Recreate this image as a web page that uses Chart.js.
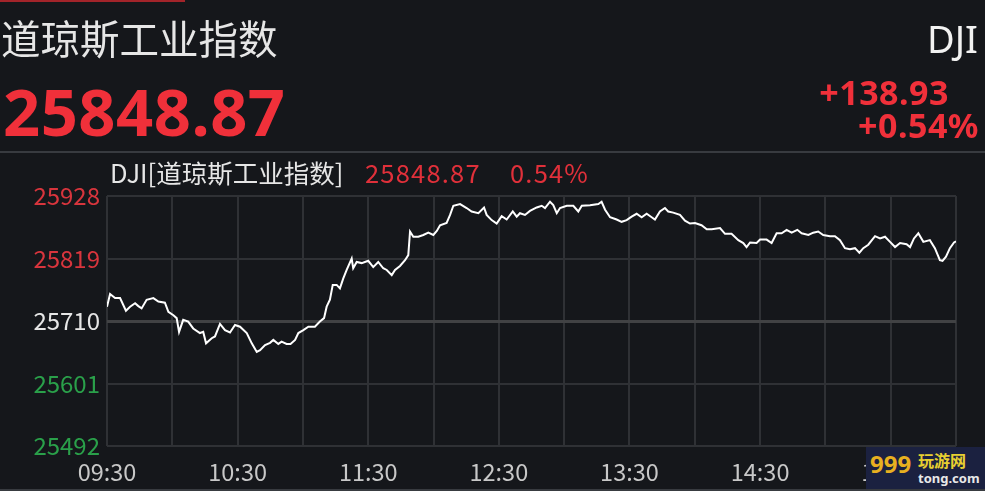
<!DOCTYPE html>
<html>
<head>
<meta charset="utf-8">
<script src="https://cdn.jsdelivr.net/npm/chart.js@4.4.1/dist/chart.umd.min.js"></script>
<style>
  html, body { margin: 0; padding: 0; background: #15171b; }
  #wrap { position: relative; width: 985px; height: 491px; overflow: hidden; background: #15171b;
          font-family: "Noto Sans CJK SC", "Noto Sans", sans-serif; }
  #chart { position: absolute; left: 0; top: 0; }
  .t { position: absolute; white-space: nowrap; line-height: 1; }
  .red { color: #f0303a; }
</style>
</head>
<body>
<div id="wrap">
  <canvas id="chart" width="985" height="491"></canvas>

  <div class="t" style="left:0;top:0;width:185px;height:2px;background:#a3242a"></div>
  <div class="t" style="left:1px;top:17px;font-size:39.5px;color:#e6e6e6">道琼斯工业指数</div>
  <div class="t" style="right:7px;top:19px;font-size:38px;color:#f2f2f2;font-family:'Noto Sans',sans-serif">DJI</div>
  <div class="t red" style="left:3px;top:79px;font-size:65px;font-weight:bold;font-family:'Noto Sans',sans-serif;letter-spacing:0.5px">25848.87</div>
  <div class="t red" style="right:36px;top:75px;font-size:34px;font-weight:bold;font-family:'Noto Sans',sans-serif;letter-spacing:0.5px">+138.93</div>
  <div class="t red" style="right:6px;top:108px;font-size:34px;font-weight:bold;font-family:'Noto Sans',sans-serif;letter-spacing:0.5px">+0.54%</div>
  <div class="t" style="left:0;top:151px;width:985px;height:2px;background:#383b40"></div>

  <div class="t" style="left:110px;top:159px;font-size:25.5px;color:#e6e6e6">DJI[道琼斯工业指数]</div>
  <div class="t" style="left:365px;top:159px;font-size:25.5px;color:#e0303a;letter-spacing:1.2px">25848.87</div>
  <div class="t" style="left:510px;top:159px;font-size:25.5px;color:#e0303a;letter-spacing:1.2px">0.54%</div>

  <div class="t" style="left:0;top:489px;width:985px;height:2px;background:#383b40"></div>
  <div class="t" style="left:866px;top:447px;width:119px;height:42px;background:#1b2140;"></div>
  <div class="t" style="left:870px;top:452px;font-size:24px;font-weight:bold;color:#e8b020;font-family:'Noto Sans',sans-serif">999</div>
  <div class="t" style="left:918px;top:452px;font-size:16px;font-weight:bold;color:#e8d030">玩游网</div>
  <div class="t" style="left:918px;top:472px;font-size:13px;font-weight:bold;color:#e8e8e8;font-family:'Noto Sans',sans-serif">tong.com</div>
</div>

<script>
// minutes since 09:30
const minutes = [0,1.4,3.7,6,8.7,10.6,12.9,14.4,15.9,18.2,
  21.3,23.6,26.6,28.2,30.5,32,33.1,35,37.3,39.6,
  42.7,44.2,45.5,48.1,49.6,51.9,54.2,56.5,58.8,61.1,
  64.2,66.5,68.8,70.3,72.6,74.9,76.4,78.7,80.2,82.5,
  84.3,86.4,87.9,90.2,92.5,95.5,97.8,99.7,100.9,102.4,
  103.7,105.5,107,108.5,110.1,112.4,113.1,114.7,117,120,
  122.3,124.6,126.9,128.5,130.8,132.3,134.6,136.9,138.4,139.2,
  140.7,143,145.3,147.6,149.9,151.5,153,156,157.6,159.1,
  162.2,165.2,167.5,170.6,173.2,174.4,176.7,179,181.3,183.6,
  186.4,188.2,189.7,192,194.3,197.4,199.7,201.2,203.5,205,
  206.6,208.1,211.2,214.2,216.5,218.1,221.9,225.7,227.2,228.8,
  231.1,234.1,236.4,238.7,241,243.3,245.6,247.9,250.2,251.7,
  254,256.3,257.8,260.1,263.2,265.5,267.8,270.1,273.1,275.5,
  277.8,281.6,283.9,286.9,290,292.3,293.8,295.4,298.4,300,
  303,305.3,307.6,309.9,312.2,314.5,317.1,319.1,322.2,324.4,
  326.7,329,332.1,334.4,336.7,339,341.3,343.6,345.6,347.4,
  349.7,352.8,355.1,357.4,359.7,362,364.3,367.3,368.9,370.7,
  372.7,375,378,380.3,382.6,383.8,385.4,387.2,389.1,390];

const values = [25735,25757,25750,25750,25728,25735,25741,25736,25732,25747,
  25750,25744,25742,25726,25720,25715,25691,25712,25709,25697,
  25689,25691,25671,25680,25683,25705,25694,25690,25703,25700,
  25689,25671,25656,25659,25668,25672,25677,25670,25674,25670,
  25670,25677,25689,25694,25700,25700,25709,25715,25735,25747,
  25773,25773,25767,25784,25799,25819,25802,25813,25811,25815,
  25804,25813,25802,25799,25790,25799,25806,25816,25825,25866,
  25857,25857,25860,25864,25860,25867,25877,25881,25895,25911,
  25914,25907,25901,25898,25908,25895,25886,25880,25893,25887,
  25901,25892,25898,25895,25902,25908,25911,25907,25918,25912,
  25898,25907,25911,25911,25901,25911,25912,25914,25918,25904,
  25891,25887,25883,25886,25892,25897,25891,25897,25891,25887,
  25901,25907,25901,25899,25895,25885,25880,25881,25877,25870,
  25870,25872,25862,25862,25851,25846,25839,25847,25846,25852,
  25852,25846,25863,25863,25869,25864,25869,25863,25860,25864,
  25866,25860,25858,25858,25851,25837,25835,25837,25829,25837,
  25843,25858,25854,25857,25848,25839,25846,25844,25839,25854,
  25863,25848,25851,25837,25816,25815,25822,25837,25847,25849];

const yTicks = [25492, 25601, 25710, 25819, 25928];
const prevClose = 25710;
const gridMinutes = [0, 30, 60, 90, 120, 150, 180, 210, 240, 270, 300, 330, 360, 390];
const timeLabels = ["09:30", "10:30", "11:30", "12:30", "13:30", "14:30", "15:30"];

const RED = "#d8353d", GREEN = "#2aa04a", WHITE = "#e6e6e6";
const FONT = '"Noto Sans CJK SC", "Noto Sans", sans-serif';

new Chart(document.getElementById("chart"), {
  type: "line",
  data: {
    datasets: [{
      data: minutes.map((m, i) => ({ x: m, y: values[i] })),
      borderColor: "#ffffff",
      borderWidth: 2,
      pointRadius: 0,
      tension: 0,
      fill: false,
    }],
  },
  options: {
    responsive: false,
    animation: false,
    devicePixelRatio: 1,
    layout: { padding: { top: 196, right: 29, bottom: 0, left: 0 } },
    plugins: { legend: { display: false }, tooltip: { enabled: false } },
    scales: {
      x: {
        type: "linear",
        min: 0,
        max: 390,
        afterBuildTicks: (s) => { s.ticks = gridMinutes.map((v) => ({ value: v })); },
        afterFit: (s) => { s.height = 45; },
        ticks: {
          autoSkip: false,
          maxRotation: 0,
          padding: 12,
          color: "#c8c8c8",
          font: { family: FONT, size: 23.5 },
          callback: (v) => (v % 60 === 0 ? timeLabels[v / 60] : ""),
        },
        grid: { color: "#2f3135", lineWidth: 2, drawTicks: false },
        border: { display: false },
      },
      y: {
        min: 25492,
        max: 25928,
        afterBuildTicks: (s) => { s.ticks = yTicks.map((v) => ({ value: v })); },
        afterFit: (s) => { s.width = 107; },
        ticks: {
          padding: 7,
          font: { family: FONT, size: 24 },
          callback: (v) => String(v),
          color: (c) => (c.tick.value > prevClose ? RED : c.tick.value < prevClose ? GREEN : WHITE),
        },
        grid: {
          drawTicks: false,
          color: (c) => (c.tick && c.tick.value === prevClose ? "#414244" : "#2f3135"),
          lineWidth: (c) => (c.tick && c.tick.value === prevClose ? 3 : 2),
        },
        border: { display: false },
      },
    },
  },
});
</script>
</body>
</html>
